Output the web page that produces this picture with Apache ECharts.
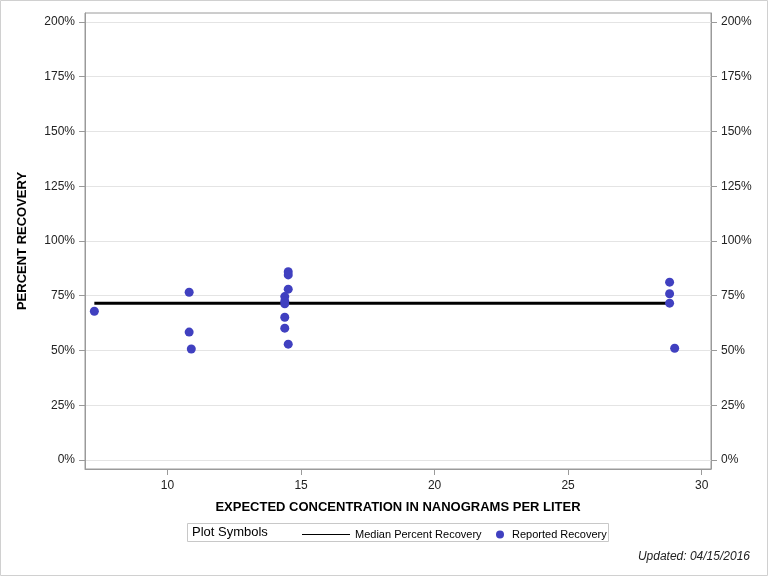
<!DOCTYPE html>
<html>
<head>
<meta charset="utf-8">
<script src="https://cdn.jsdelivr.net/npm/echarts@6/dist/echarts.min.js"></script>
<style>
  html, body { margin: 0; padding: 0; background: #fff; }
  #chart { width: 768px; height: 576px; }
</style>
</head>
<body>
<div id="chart"></div>
<script>
// expected concentration (ng/L) and percent recovery of each reported sample
const concentration = [7.26, 10.81, 10.81, 10.89, 14.52, 14.52, 14.52, 14.39, 14.39, 14.39, 14.39, 14.39, 14.52, 28.8, 28.8, 28.8, 28.99]
const recovery = [67.9, 76.6, 58.4, 50.7, 86.0, 84.5, 78.0, 74.6, 72.5, 71.3, 65.2, 60.2, 52.9, 81.2, 75.9, 71.6, 51.0]

// median recovery line, drawn across the range of concentrations
const medianX = [7.26, 28.8]
const medianY = [71.6, 71.6]

const xTicks = [10, 15, 20, 25, 30]
const yTicks = [0, 25, 50, 75, 100, 125, 150, 175, 200]

const FONT = "Liberation Sans, Arial, sans-serif"
const axisGray = "#9a9a9a"

const myChart = echarts.init(document.getElementById("chart"))

const yAxisBase = {
  type: "value",
  min: -4.11,
  max: 204.1,
  axisLine: { show: true, onZero: false, lineStyle: { color: axisGray } },
  axisTick: { show: true, length: 6, customValues: yTicks, lineStyle: { color: axisGray } },
  axisLabel: {
    customValues: yTicks,
    margin: 10,
    color: "#222",
    fontFamily: FONT,
    fontSize: 12,
    formatter: (v) => v + "%"
  }
}

const option = {
  animation: false,
  backgroundColor: "#fff",
  grid: {
    left: 85,
    right: 57,
    top: 13,
    bottom: 107,
    show: true,
    borderColor: axisGray,
    borderWidth: 1
  },
  xAxis: {
    type: "value",
    min: 6.91,
    max: 30.35,
    name: "EXPECTED CONCENTRATION IN NANOGRAMS PER LITER",
    nameLocation: "middle",
    nameGap: 32,
    nameTextStyle: { fontFamily: FONT, fontWeight: "bold", fontSize: 13, color: "#000" },
    axisLine: { show: true, onZero: false, lineStyle: { color: axisGray } },
    axisTick: { show: true, length: 6, customValues: xTicks, lineStyle: { color: axisGray } },
    axisLabel: { customValues: xTicks, margin: 11, color: "#222", fontFamily: FONT, fontSize: 12 },
    splitLine: { show: false }
  },
  yAxis: [
    {
      ...yAxisBase,
      position: "left",
      name: "PERCENT RECOVERY",
      nameLocation: "middle",
      nameGap: 56,
      nameTextStyle: { fontFamily: FONT, fontWeight: "bold", fontSize: 13, color: "#000" },
      splitLine: { show: true, lineStyle: { color: "#e4e4e4", width: 1 } }
    },
    {
      ...yAxisBase,
      position: "right",
      splitLine: { show: false }
    }
  ],
  legend: [
    {
      data: ["Median Percent Recovery"],
      left: 297,
      top: 524,
      icon: "rect",
      itemWidth: 48,
      itemHeight: 1,
      textStyle: { fontFamily: FONT, fontSize: 11, color: "#000" }
    },
    {
      data: ["Reported Recovery"],
      left: 491,
      top: 524,
      icon: "circle",
      itemWidth: 8,
      itemHeight: 8,
      textStyle: { fontFamily: FONT, fontSize: 11, color: "#000", padding: [0, 0, 0, 3] }
    }
  ],
  graphic: [
    {
      type: "rect",
      shape: { x: 0.5, y: 0.5, width: 767, height: 575 },
      style: { fill: "none", stroke: "#d0d0d0", lineWidth: 1 },
      silent: true
    },
    {
      type: "rect",
      shape: { x: 187.5, y: 523.5, width: 421, height: 18 },
      style: { fill: "none", stroke: "#c8c8c8", lineWidth: 1 },
      silent: true
    },
    {
      type: "text",
      left: 192,
      top: 526,
      style: { text: "Plot Symbols", font: "13px " + FONT, fill: "#000" }
    },
    {
      type: "text",
      right: 18,
      top: 551,
      style: { text: "Updated: 04/15/2016", font: "italic 12px " + FONT, fill: "#222" }
    }
  ],
  series: [
    {
      name: "Median Percent Recovery",
      type: "line",
      yAxisIndex: 0,
      data: medianX.map((x, i) => [x, medianY[i]]),
      showSymbol: false,
      symbol: "none",
      lineStyle: { color: "#000", width: 3 },
      itemStyle: { color: "#000" },
      z: 2
    },
    {
      name: "Reported Recovery",
      type: "scatter",
      yAxisIndex: 0,
      data: concentration.map((x, i) => [x, recovery[i]]),
      symbolSize: 9,
      itemStyle: { color: "#4040C0", opacity: 1 },
      z: 3
    }
  ]
}

myChart.setOption(option)
window.addEventListener("resize", () => {
  myChart.resize()
})
</script>
</body>
</html>
